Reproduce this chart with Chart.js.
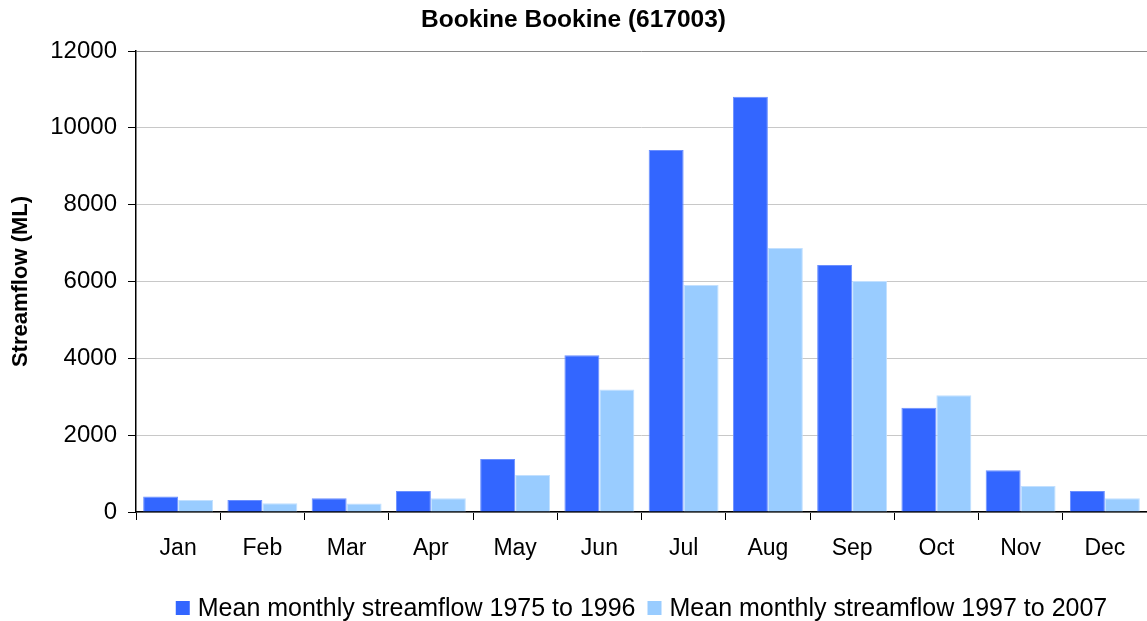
<!DOCTYPE html>
<html>
<head>
<meta charset="utf-8">
<script src="https://cdn.jsdelivr.net/npm/chart.js@4/dist/chart.umd.min.js"></script>
<style>
  html, body { margin: 0; padding: 0; background: #ffffff; }
  #wrap { width: 1147px; height: 621px; position: relative; }
</style>
</head>
<body>
<div id="wrap"><canvas id="chart" width="1147" height="621"></canvas></div>
<script>
// Monthly streamflow at Bookine Bookine gauge (617003), in ML
const months = ['Jan', 'Feb', 'Mar', 'Apr', 'May', 'Jun', 'Jul', 'Aug', 'Sep', 'Oct', 'Nov', 'Dec'];
const flow1975to1996 = [405, 310, 355, 545, 1380, 4080, 9420, 10810, 6430, 2715, 1090, 545];
const flow1997to2007 = [310, 225, 220, 355, 960, 3190, 5910, 6870, 6010, 3040, 680, 360];
const seriesNames = ['Mean monthly streamflow 1975 to 1996', 'Mean monthly streamflow 1997 to 2007'];
const yTicks = [0, 2000, 4000, 6000, 8000, 10000, 12000];

const FONT = "'Liberation Sans', Arial, sans-serif";

// Legend row drawn beneath the month labels, centred on the plot area
const bottomLegend = {
  id: 'bottomLegend',
  afterDraw(chart) {
    const ctx = chart.ctx;
    const area = chart.chartArea;
    const box = 14, boxGap = 8, itemGap = 12;
    ctx.save();
    ctx.font = '25px ' + FONT;
    ctx.textBaseline = 'middle';
    const items = chart.data.datasets.map(ds => ({
      text: ds.label, color: ds.backgroundColor, w: ctx.measureText(ds.label).width
    }));
    const total = items.reduce((s, it) => s + box + boxGap + it.w, 0) + itemGap * (items.length - 1);
    let x = (area.left + area.right) / 2 - total / 2;
    const yMid = 608;
    items.forEach(it => {
      ctx.fillStyle = it.color;
      ctx.fillRect(x, yMid - box / 2, box, box);
      x += box + boxGap;
      ctx.fillStyle = '#000000';
      ctx.textAlign = 'left';
      ctx.fillText(it.text, x, yMid + 1);
      x += it.w + itemGap;
    });
    ctx.restore();
  }
};

new Chart(document.getElementById('chart'), {
  type: 'bar',
  data: {
    labels: months,
    datasets: [
      {
        label: seriesNames[0],
        data: flow1975to1996,
        backgroundColor: '#3366FF',
        borderColor: '#6b8fff',
        borderWidth: 1,
        categoryPercentage: 0.83,
        barPercentage: 1.0
      },
      {
        label: seriesNames[1],
        data: flow1997to2007,
        backgroundColor: '#99CCFF',
        borderColor: '#c2e0ff',
        borderWidth: 1,
        categoryPercentage: 0.83,
        barPercentage: 1.0
      }
    ]
  },
  options: {
    responsive: false,
    animation: false,
    devicePixelRatio: 1,
    layout: { padding: 0 },
    plugins: {
      legend: { display: false },
      tooltip: { enabled: false },
      title: {
        display: true,
        text: 'Bookine Bookine (617003)',
        color: '#000000',
        font: { family: FONT, size: 24.5, weight: 'bold', lineHeight: 1.2 },
        padding: { top: 6, bottom: 15.6 }
      }
    },
    scales: {
      x: {
        offset: true,
        grid: {
          offset: true,
          display: true,
          drawOnChartArea: false,
          drawTicks: true,
          tickLength: 8,
          color: '#000000',
          lineWidth: 1
        },
        border: { display: true, color: '#000000', width: 1.5 },
        ticks: {
          color: '#000000',
          font: { family: FONT, size: 23 },
          padding: 15,
          maxRotation: 0,
          autoSkip: false
        },
        afterFit(scale) { scale.height = 109; }
      },
      y: {
        min: 0,
        max: 12000,
        afterBuildTicks(scale) { scale.ticks = yTicks.map(v => ({ value: v })); },
        grid: {
          color: (c) => (c.tick && c.tick.value === 12000 ? '#8a8a8a' : '#c8c8c8'),
          lineWidth: 1,
          drawTicks: true,
          tickLength: 8,
          tickColor: '#000000'
        },
        border: { display: true, color: '#000000', width: 1.5 },
        ticks: {
          color: '#000000',
          font: { family: FONT, size: 24 },
          padding: 11,
          callback: (v) => String(v)
        },
        title: {
          display: true,
          text: 'Streamflow (ML)',
          color: '#000000',
          font: { family: FONT, size: 22, weight: 'bold', lineHeight: 1.2 },
          padding: { top: 8, bottom: 0 }
        },
        afterFit(scale) { scale.width = 136; }
      }
    }
  },
  plugins: [bottomLegend]
});
</script>
</body>
</html>
